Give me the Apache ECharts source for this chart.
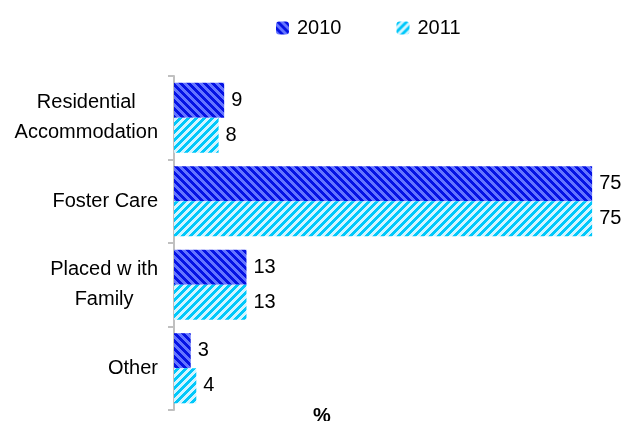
<!DOCTYPE html>
<html>
<head>
<meta charset="utf-8">
<script src="https://cdn.jsdelivr.net/npm/echarts@6/dist/echarts.min.js"></script>
<style>
  html, body { margin: 0; padding: 0; background: #fff; }
  #chart { width: 624px; height: 421px; }
</style>
</head>
<body>
<div id="chart"></div>
<script>
  var categories = ['Residential\nAccommodation', 'Foster Care', 'Placed w ith\nFamily', 'Other'];
  var values2010 = [9, 75, 13, 3];
  var values2011 = [8, 75, 13, 4];
  var seriesNames = ['2010', '2011'];

  // striped fill, built pixel by pixel
  function stripes(dark, light, back) {
    var n = 8;
    var c = document.createElement('canvas');
    c.width = n; c.height = n;
    var ctx = c.getContext('2d');
    for (var x = 0; x < n; x++) {
      for (var y = 0; y < n; y++) {
        var k = back ? (x - y + 2 * n) % n : (x + y) % n;
        ctx.fillStyle = k < n / 2 ? dark : light;
        ctx.fillRect(x, y, 1, 1);
      }
    }
    return { image: c, repeat: 'repeat' };
  }

  var fill2010 = stripes('#0512e4', '#6474ff', true);
  var fill2011 = stripes('#00c8fa', '#d2f4ff', false);

  var myChart = echarts.init(document.getElementById('chart'));
  var labelStyle = { show: true, position: 'right', distance: 7, color: '#000', fontSize: 20 };

  myChart.setOption({
    animation: false,
    textStyle: { fontFamily: 'Liberation Sans' },
    legend: {
      top: 13,
      left: 271,
      itemWidth: 13,
      itemHeight: 13,
      itemGap: 55,
      textStyle: { fontSize: 20, color: '#000', padding: [0, 0, 0, 3] },
      data: seriesNames
    },
    grid: { left: 174, right: 4, top: 76, bottom: 11, outerBoundsMode: 'none' },
    xAxis: {
      type: 'value',
      min: 0,
      max: 80,
      axisLine: { show: false },
      axisTick: { show: false },
      axisLabel: { show: false },
      splitLine: { show: false },
      name: '%',
      nameLocation: 'middle',
      nameGap: -4,
      nameTextStyle: { fontSize: 20, fontWeight: 'bold', color: '#000', padding: [0, 150, 0, 0] }
    },
    yAxis: {
      type: 'category',
      inverse: true,
      data: categories,
      axisLine: { show: true, lineStyle: { color: '#c0c0c0', width: 2 } },
      axisTick: { show: true, length: 6, lineStyle: { color: '#c0c0c0', width: 2 } },
      axisLabel: {
        color: '#000',
        margin: 16,
        align: 'right',
        // lines centred inside a right-aligned block
        formatter: function (v) {
          return v.split('\n').map(function (s) { return '{c|' + s + '}'; }).join('\n');
        },
        rich: { c: { fontSize: 20, color: '#000', lineHeight: 30, align: 'center' } }
      }
    },
    series: [
      {
        name: seriesNames[0],
        type: 'bar',
        data: values2010,
        barGap: '0%',
        barCategoryGap: '16%',
        itemStyle: { color: fill2010 },
        label: labelStyle
      },
      {
        name: seriesNames[1],
        type: 'bar',
        data: values2011,
        barGap: '0%',
        barCategoryGap: '16%',
        itemStyle: { color: fill2011 },
        label: labelStyle
      }
    ]
  });
</script>
</body>
</html>
